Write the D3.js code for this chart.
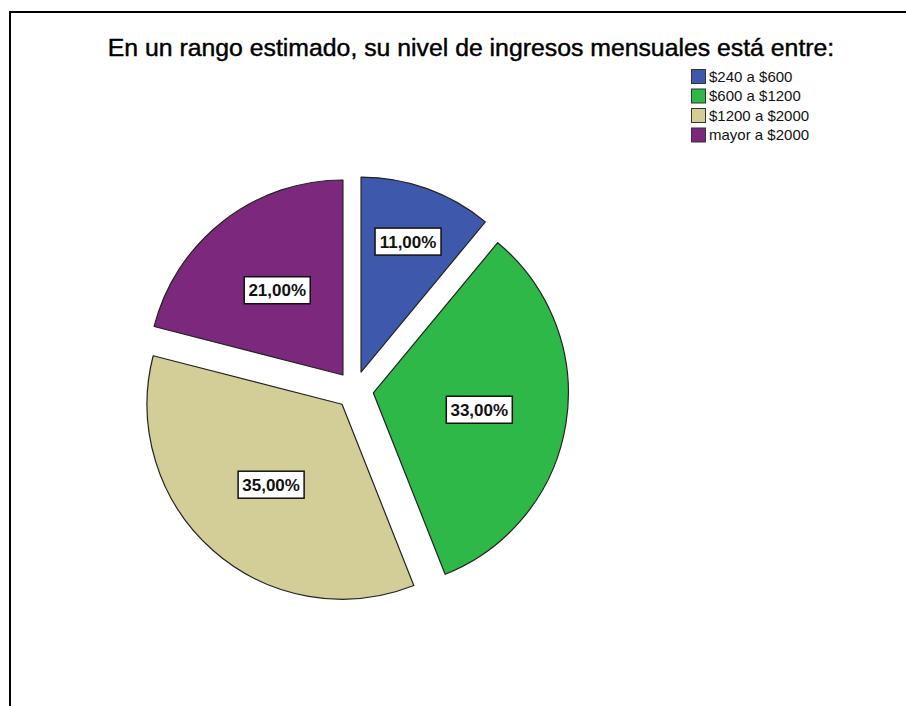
<!DOCTYPE html>
<html>
<head>
<meta charset="utf-8">
<script src="https://cdn.jsdelivr.net/npm/d3@7"></script>
<style>
  html, body { margin: 0; padding: 0; background: #fff; }
  svg { display: block; font-family: "Liberation Sans", Arial, sans-serif; }
</style>
</head>
<body>
<svg id="chart" width="906" height="706"></svg>
<script>
// Income brackets and the share of respondents in each
const categories = ["$240 a $600", "$600 a $1200", "$1200 a $2000", "mayor a $2000"];
const percents = [11, 33, 35, 21];
const colors = ["#3e58ac", "#2eb848", "#d3ce97", "#7c287d"];
const title = "En un rango estimado, su nivel de ingresos mensuales está entre:";

const svg = d3.select("#chart");
const W = 906, H = 706;

// outer frame (runs past the right and bottom edges)
svg.append("rect")
  .attr("x", 10).attr("y", 12)
  .attr("width", W + 50).attr("height", H + 50)
  .attr("fill", "none").attr("stroke", "#000").attr("stroke-width", 2);

// title
svg.append("text")
  .attr("x", 471).attr("y", 56)
  .attr("text-anchor", "middle")
  .attr("font-size", 24.8)
  .attr("fill", "#000")
  .attr("stroke", "#000")
  .attr("stroke-width", 0.45)
  .text(title);

// legend
const legend = svg.append("g").attr("transform", "translate(691,69)");
const rowH = 19.5;
categories.forEach((c, i) => {
  const g = legend.append("g").attr("transform", `translate(0,${i * rowH})`);
  g.append("rect")
    .attr("x", 0.5).attr("y", 0.5)
    .attr("width", 14).attr("height", 14)
    .attr("fill", colors[i]).attr("stroke", "#333").attr("stroke-width", 1);
  g.append("text")
    .attr("x", 18).attr("y", 7.5)
    .attr("dy", "0.36em")
    .attr("font-size", 15)
    .attr("fill", "#111")
    .text(c);
});

// exploded pie
const cx = 354.6, cy = 390, R = 195, explode = 19;
const pie = d3.pie().sort(null).value(d => d);
const arc = d3.arc().innerRadius(0).outerRadius(R);
const slices = pie(percents);

const locale = d3.formatLocale({ decimal: ",", thousands: ".", grouping: [3], currency: ["$", ""] });
const fmt = v => locale.format(".2f")(v) + "%";

const pieG = svg.append("g").attr("transform", `translate(${cx},${cy})`);

const sliceG = pieG.selectAll("g.slice")
  .data(slices)
  .join("g")
  .attr("class", "slice")
  .attr("transform", d => {
    const mid = (d.startAngle + d.endAngle) / 2;
    return `translate(${Math.sin(mid) * explode},${-Math.cos(mid) * explode})`;
  });

sliceG.append("path")
  .attr("d", arc)
  .attr("fill", (d, i) => colors[i])
  .attr("stroke", "#222")
  .attr("stroke-width", 1.2)
  .attr("stroke-linejoin", "round");

// value labels in boxed tags; narrow slices push the tag outward so it stays clear of the edges
const boxW = 66, boxH = 27;
sliceG.each(function(d) {
  const g = d3.select(this);
  const mid = (d.startAngle + d.endAngle) / 2;
  const half = (d.endAngle - d.startAngle) / 2;
  const rho = Math.max(0.55 * R, (boxW / 2 + 14) / Math.sin(half));
  const x = Math.sin(mid) * rho, y = -Math.cos(mid) * rho;
  g.append("rect")
    .attr("x", x - boxW / 2).attr("y", y - boxH / 2)
    .attr("width", boxW).attr("height", boxH)
    .attr("fill", "#fff").attr("stroke", "#111").attr("stroke-width", 1.5);
  g.append("text")
    .attr("x", x).attr("y", y)
    .attr("dy", "0.36em")
    .attr("text-anchor", "middle")
    .attr("font-size", 17)
    .attr("font-weight", "bold")
    .attr("fill", "#111")
    .text(fmt(d.data));
});
</script>
</body>
</html>
